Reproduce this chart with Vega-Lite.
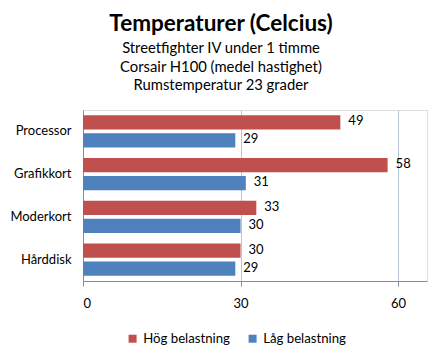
{
  "$schema": "https://vega.github.io/schema/vega-lite/v6.json",
  "width": 344,
  "height": 171,
  "autosize": "none",
  "padding": {"left": 83, "top": 110, "right": 15, "bottom": 70},
  "background": "white",
  "title": {
    "text": "Temperaturer (Celcius)",
    "subtitle": ["Streetfighter IV under 1 timme", "Corsair H100 (medel hastighet)", "Rumstemperatur 23 grader"],
    "anchor": "middle",
    "dx": -34,
    "offset": 17,
    "font": "Lato",
    "fontSize": 22.5,
    "fontWeight": "bold",
    "color": "#000000",
    "subtitleFont": "Lato",
    "subtitleFontSize": 14.8,
    "subtitleColor": "#000000",
    "subtitleLineHeight": 18.5,
    "subtitlePadding": 6
  },
  "data": {
    "values": [
      {"komponent": "Processor", "serie": "Hög belastning", "temp": 49},
      {"komponent": "Processor", "serie": "Låg belastning", "temp": 29},
      {"komponent": "Grafikkort", "serie": "Hög belastning", "temp": 58},
      {"komponent": "Grafikkort", "serie": "Låg belastning", "temp": 31},
      {"komponent": "Moderkort", "serie": "Hög belastning", "temp": 33},
      {"komponent": "Moderkort", "serie": "Låg belastning", "temp": 30},
      {"komponent": "Hårddisk", "serie": "Hög belastning", "temp": 30},
      {"komponent": "Hårddisk", "serie": "Låg belastning", "temp": 29}
    ]
  },
  "encoding": {
    "y": {
      "field": "komponent",
      "type": "nominal",
      "sort": ["Processor", "Grafikkort", "Moderkort", "Hårddisk"],
      "scale": {"paddingInner": 0.24, "paddingOuter": 0.12},
      "axis": {
        "title": null,
        "ticks": false,
        "domainColor": "#8C8C8C",
        "labelFont": "Lato",
        "labelFontSize": 13,
        "labelColor": "#000000",
        "labelPadding": 12
      }
    },
    "yOffset": {
      "field": "serie",
      "type": "nominal",
      "sort": ["Hög belastning", "Låg belastning"],
      "scale": {"paddingInner": 0.2, "paddingOuter": 0}
    },
    "x": {
      "field": "temp",
      "type": "quantitative",
      "scale": {"domain": [0, 65.5], "nice": false, "zero": true},
      "axis": {
        "title": null,
        "values": [0, 30, 60],
        "grid": true,
        "gridColor": "#B8C7D9",
        "tickColor": "#8C8C8C",
        "tickSize": 5,
        "domainColor": "#8C8C8C",
        "labelFont": "Lato",
        "labelFontSize": 13,
        "labelColor": "#000000",
        "labelPadding": 11
      }
    }
  },
  "layer": [
    {
      "mark": {"type": "bar"},
      "encoding": {
        "color": {
          "field": "serie",
          "type": "nominal",
          "scale": {"domain": ["Hög belastning", "Låg belastning"], "range": ["#C0504D", "#4F81BD"]},
          "legend": {
            "title": null,
            "orient": "none",
            "direction": "horizontal",
            "legendX": 43,
            "legendY": 222,
            "symbolType": "square",
            "symbolSize": 64,
            "symbolStrokeWidth": 0,
            "labelFont": "Lato",
            "labelFontSize": 13.2,
            "labelColor": "#000000",
            "labelOffset": 4,
            "columnPadding": 16
          }
        }
      }
    },
    {
      "mark": {"type": "text", "align": "left", "dx": 8, "dy": -1, "font": "Lato", "fontSize": 13, "color": "#000000"},
      "encoding": {
        "text": {"field": "temp", "type": "quantitative"}
      }
    }
  ]
}
